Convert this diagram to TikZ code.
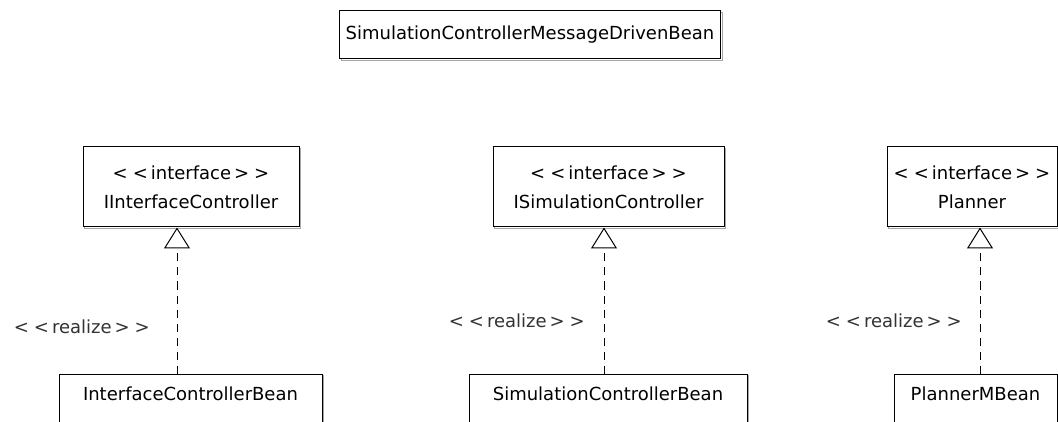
\documentclass[tikz,border=0pt]{standalone}
\usepackage{fontspec}
\setmainfont{DejaVu Sans}
\usetikzlibrary{arrows.meta,calc}
\newcommand{\stereotype}[1]{<\;<\,#1\,>\;>}
\begin{document}
\begin{tikzpicture}[x=1pt,y=-1pt,
  font=\fontsize{18}{29}\selectfont,
  umlbox/.style={draw=black, line width=1pt, fill=white, inner sep=0pt, align=center,
    preaction={draw=black!35, line width=1pt, transform canvas={shift={(1.5pt,-1.5pt)}}}},
  beanbox/.style={umlbox, minimum height=49pt, text depth=10pt},
  ifacebox/.style={umlbox, minimum height=80pt},
  realizes/.style={draw=black, line width=1pt, dash pattern=on 8pt off 6pt,
    -{Triangle[open, length=21pt, width=26pt, line width=1pt]}},
  stereo/.style={text=black!80, anchor=east, inner sep=0pt}
]
\useasboundingbox (0,0) rectangle (1058,422);

% message driven bean
\node[umlbox, minimum width=381pt, minimum height=48pt] (mdb) at (530,35) {SimulationControllerMessageDrivenBean};

% interfaces
\node[ifacebox, minimum width=216pt] (iic) at (191,187) {\stereotype{interface}\\IInterfaceController};
\node[ifacebox, minimum width=231pt] (isc) at (608.5,187) {\stereotype{interface}\\ISimulationController};
\node[ifacebox, minimum width=170pt] (ipl) at (972,187) {\stereotype{interface}\\Planner};

% implementing beans
\node[beanbox, minimum width=263pt] (icb) at (190.5,398.5) {InterfaceControllerBean};
\node[beanbox, minimum width=278pt] (scb) at (608,398.5) {SimulationControllerBean};
\node[beanbox, minimum width=163pt] (pmb) at (975.5,398.5) {PlannerMBean};

% x positions of the realization lines
\coordinate (x1) at (177,0);
\coordinate (x2) at (604,0);
\coordinate (x3) at (980,0);

\draw[realizes] (icb.north -| x1) -- (iic.south -| x1);
\draw[realizes] (scb.north -| x2) -- (isc.south -| x2);
\draw[realizes] (pmb.north -| x3) -- (ipl.south -| x3);

% stereotype labels
\node[stereo] (l1) at (150,327) {\stereotype{realize}};
\node[stereo] (l2) at (585,321) {\stereotype{realize}};
\node[stereo] (l3) at (962,321) {\stereotype{realize}};
\end{tikzpicture}
\end{document}
